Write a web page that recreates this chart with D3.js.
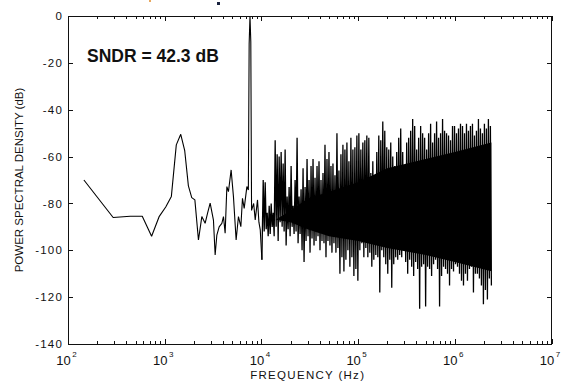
<!DOCTYPE html>
<html><head><meta charset="utf-8">
<script src="https://cdn.jsdelivr.net/npm/d3@7"></script>
<style>html,body{margin:0;padding:0;background:#fff;} svg{display:block}</style>
</head><body>
<svg id="c" width="562" height="381"></svg>
<script>
// ---- Data ----
// Low-frequency FFT bins (Hz) and PSD (dB), individually visible
const lowFreqHz = [146, 293, 440, 586, 732, 879, 1025, 1172, 1318, 1465, 1611, 1758, 1904, 2051,
  2234, 2421, 2618, 2780, 2951, 3192, 3324, 3461, 3656, 3899, 4053, 4217, 4395, 4562, 4864, 5140,
  5479, 5790, 6131, 6372, 6637, 7079, 7330, 7470, 7620, 7770, 7910, 8318, 8630, 9118, 9423, 9730, 10120];
const lowPsdDb = [-70, -86, -85.5, -85.5, -94, -85.5, -81.5, -77, -55, -50.5, -57.5, -72.5, -77.5, -78.5,
  -95.6, -85.6, -88.5, -84, -79.9, -87.1, -102, -93.5, -90, -88.5, -85.6, -92.7, -72.8, -75, -65.7, -77.1,
  -95.6, -85.6, -89.9, -77.8, -82.1, -72.8, -74.3, -12, 0, -11, -83, -80, -87, -78.5, -88, -91.3, -104];

// Dense region (10.4 kHz .. 2.39 MHz): per plotted column, max and min of the PSD (dB)
const denseStartHz = 10440;
const denseEndHz = 2390000;
const denseTopDb = [-70, -71, -84, -81, -80, -84, -53, -59, -60, -58, -63, -57, -77, -73, -64, -81, -70, -52, -77, -74,
  -65, -73, -61, -70, -64, -61, -69, -64, -62, -70, -67, -55, -61, -58, -64, -63, -68, -50, -66, -59,
  -55, -57, -54, -62, -52, -57, -56, -51, -50, -57, -54, -53, -51, -52, -67, -62, -69, -58, -51, -53,
  -45, -49, -56, -57, -54, -60, -64, -58, -52, -48, -58, -64, -54, -52, -49, -44, -47, -57, -52, -47,
  -50, -52, -57, -50, -46, -54, -50, -45, -52, -50, -44, -49, -50, -51, -53, -47, -47, -50, -48, -46,
  -47, -50, -46, -49, -47, -46, -51, -49, -44, -48, -50, -46, -48, -44, -47];
const denseBotDb = [-92, -91, -94, -93, -90, -94, -90, -96, -88, -90, -92, -98, -91, -94, -90, -93, -92, -97, -93, -100,
  -105, -96, -94, -101, -95, -98, -96, -94, -100, -96, -97, -103, -96, -98, -101, -97, -101, -99, -110, -103,
  -109, -104, -100, -107, -103, -111, -108, -113, -100, -97, -103, -99, -103, -101, -107, -104, -102, -103, -118, -100,
  -103, -106, -110, -104, -116, -106, -103, -104, -102, -103, -97, -105, -110, -104, -107, -111, -105, -108, -125, -107,
  -106, -124, -107, -108, -111, -106, -104, -108, -124, -111, -107, -108, -110, -115, -108, -109, -106, -107, -110, -113,
  -115, -110, -113, -108, -107, -118, -110, -110, -112, -115, -123, -117, -121, -112, -115];

// Solid noise core (where the bins are so dense the trace is a black band): upper / lower bounds (dB)
const coreFreqHz = [14000, 20000, 30000, 50000, 100000, 200000, 500000, 1000000, 2390000];
const coreTopDb = [-87, -83, -78, -75, -71, -65, -61, -58, -54];
const coreBotDb = [-87, -88, -91, -94, -96, -99, -102, -105, -109];

const yTicks = [0, -20, -40, -60, -80, -100, -120, -140];
const xDecades = [2, 3, 4, 5, 6, 7];
const annotationText = "SNDR = 42.3 dB";
const xTitle = "FREQUENCY (Hz)";
const yTitle = "POWER SPECTRAL DENSITY (dB)";

// ---- Layout ----
const m = {left: 68, right: 551.5, top: 16, bottom: 344};
const FONT = "'Liberation Sans', Arial, sans-serif";
const INK = "#111";

const svg = d3.select("#c");
const x = d3.scaleLog().domain([1e2, 1e7]).range([m.left, m.right]);
const y = d3.scaleLinear().domain([-140, 0]).range([m.bottom, m.top]);

// Traces: low bins, then dense zigzag between column max and min
const lowPts = lowFreqHz.map((f, i) => [f, lowPsdDb[i]]);
const n = denseTopDb.length;
const lr = Math.log10(denseEndHz / denseStartHz) / (n - 0.5);
const densePts = [lowPts[lowPts.length - 1]];
for (let i = 0; i < n; i++) {
  densePts.push([denseStartHz * Math.pow(10, lr * i), denseTopDb[i]]);
  densePts.push([denseStartHz * Math.pow(10, lr * (i + 0.5)), denseBotDb[i]]);
}
const corePts = coreFreqHz.map((f, i) => ({f, t: coreTopDb[i], b: coreBotDb[i]}));

svg.append("clipPath").attr("id", "plotclip").append("rect")
  .attr("x", m.left).attr("y", m.top).attr("width", m.right - m.left).attr("height", m.bottom - m.top);

const line = d3.line().x(d => x(d[0])).y(d => y(d[1]));
const traces = svg.append("g").attr("clip-path", "url(#plotclip)");
traces.append("path").datum(corePts).attr("fill", "#000").attr("stroke", "none")
  .attr("d", d3.area().x(d => x(d.f)).y0(d => y(d.b)).y1(d => y(d.t)));
traces.append("path").datum(lowPts).attr("fill", "none").attr("stroke", "#000")
  .attr("stroke-width", 1.1).attr("stroke-linejoin", "bevel").attr("d", line);
traces.append("path").datum(densePts).attr("fill", "none").attr("stroke", "#000")
  .attr("stroke-width", 1.3).attr("stroke-linejoin", "bevel").attr("d", line);

// ---- Axes ----
const majors = xDecades.map(e => Math.pow(10, e));
const minors = [];
xDecades.slice(0, -1).forEach(e => { for (let k = 2; k <= 9; k++) minors.push(k * Math.pow(10, e)); });

function styleAxis(g) {
  g.select(".domain").remove();
  g.selectAll("line").attr("stroke", INK).attr("shape-rendering", "crispEdges");
}
svg.append("g").attr("transform", `translate(0,${m.bottom})`)
  .call(d3.axisBottom(x).tickValues(majors).tickSizeInner(-5).tickSizeOuter(0).tickFormat(""))
  .call(styleAxis);
svg.append("g").attr("transform", `translate(0,${m.bottom})`)
  .call(d3.axisBottom(x).tickValues(minors).tickSizeInner(-3).tickSizeOuter(0).tickFormat(""))
  .call(styleAxis);
svg.append("g").attr("transform", `translate(0,${m.top})`)
  .call(d3.axisTop(x).tickValues(majors).tickSizeInner(-5).tickSizeOuter(0).tickFormat(""))
  .call(styleAxis);
svg.append("g").attr("transform", `translate(0,${m.top})`)
  .call(d3.axisTop(x).tickValues(minors).tickSizeInner(-3).tickSizeOuter(0).tickFormat(""))
  .call(styleAxis);

const yAxisG = svg.append("g").attr("transform", `translate(${m.left},0)`)
  .call(d3.axisLeft(y).tickValues(yTicks).tickSizeInner(-5).tickSizeOuter(0).tickPadding(5)
    .tickFormat(d => d3.format("d")(d).replace("−", "-")))
  .call(styleAxis);
yAxisG.selectAll("text")
  .attr("fill", INK).attr("font-family", FONT).attr("font-size", 11.5)
  .attr("letter-spacing", "1.2px");

svg.append("g").attr("transform", `translate(${m.right},0)`)
  .call(d3.axisRight(y).tickValues(yTicks).tickSizeInner(-5).tickSizeOuter(0).tickFormat(""))
  .call(styleAxis);

// Frame
svg.append("rect")
  .attr("x", m.left).attr("y", m.top)
  .attr("width", m.right - m.left).attr("height", m.bottom - m.top)
  .attr("fill", "none").attr("stroke", INK).attr("shape-rendering", "crispEdges");

// X tick labels 10^e
const xl = svg.append("g").attr("font-family", FONT).attr("fill", INK);
xDecades.forEach(e => {
  const t = xl.append("text")
    .attr("x", x(Math.pow(10, e)) - 1.5)
    .attr("y", 365)
    .attr("text-anchor", "middle")
    .attr("font-size", 13);
  t.append("tspan").text("10");
  t.append("tspan").attr("font-size", 8).attr("dy", -8).attr("dx", 1.5).text(String(e));
});

// Axis titles
svg.append("text")
  .attr("x", (m.left + m.right) / 2 - 2).attr("y", 379)
  .attr("text-anchor", "middle")
  .attr("font-family", FONT).attr("font-size", 11.5).attr("letter-spacing", "1.3px")
  .attr("fill", INK).text(xTitle);

svg.append("text")
  .attr("transform", `translate(23,${(m.top + m.bottom) / 2}) rotate(-90)`)
  .attr("text-anchor", "middle")
  .attr("font-family", FONT).attr("font-size", 11.5)
  .attr("fill", INK).text(yTitle);

// Annotation
svg.append("text")
  .attr("x", 87).attr("y", 62)
  .attr("font-family", FONT).attr("font-size", 17.5).attr("font-weight", "bold")
  .attr("fill", INK).text(annotationText);

// Remnants of a cropped title at the very top edge
svg.append("rect").attr("x", 149).attr("y", 0).attr("width", 2).attr("height", 2).attr("fill", "#e8a860");
svg.append("rect").attr("x", 217).attr("y", 2).attr("width", 3).attr("height", 3).attr("fill", "#1a2340");
</script>
</body></html>
